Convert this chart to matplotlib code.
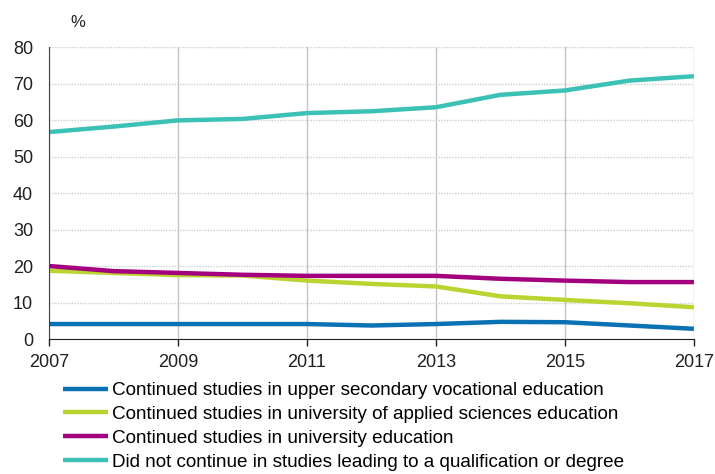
import matplotlib
matplotlib.use('Agg')
from matplotlib import pyplot as plt

years = [2007, 2008, 2009, 2010, 2011, 2012, 2013, 2014, 2015, 2016, 2017]
vocational = [4.1, 4.1, 4.1, 4.1, 4.1, 3.7, 4.1, 4.7, 4.6, 3.7, 2.8]
applied_sciences = [18.7, 18.1, 17.5, 17.4, 16.0, 15.1, 14.4, 11.7, 10.7, 9.8, 8.7]
university = [20.0, 18.6, 18.1, 17.6, 17.3, 17.3, 17.3, 16.5, 16.0, 15.6, 15.6]
no_continue = [56.7, 58.2, 59.9, 60.3, 61.9, 62.4, 63.5, 66.9, 68.1, 70.8, 72.0]

labels = ['Continued studies in upper secondary vocational education',
          'Continued studies in university of applied sciences education',
          'Continued studies in university education',
          'Did not continue in studies leading to a qualification or degree']
colors = ['#0a72b4', '#bcd431', '#a3007f', '#3cc1b6']

plt.rcParams['font.family'] = ['Liberation Sans', 'DejaVu Sans']

fig = plt.figure(dpi=100, figsize=(7.15, 4.74))
ax = fig.add_axes([0.0685, 0.2848, 0.902, 0.616])

for series, label, color in zip([vocational, applied_sciences, university, no_continue], labels, colors):
    ax.plot(years, series, c=color, lw=3.2, label=label, solid_capstyle='butt')

ax.set_xlim(2007, 2017)
ax.set_ylim(0, 80)
ax.set_xticks([2007, 2009, 2011, 2013, 2015, 2017])
ax.set_yticks(range(0, 81, 10))

ax.yaxis.grid(True, color='#cfcfcf', linestyle=(0, (1, 1)), lw=1)
ax.xaxis.grid(True, color='#c4c4c4', linestyle='-', lw=1)
ax.set_axisbelow(True)

for side in ['top', 'right']:
    ax.spines[side].set_visible(False)
ax.spines['left'].set_color('#404040')
ax.spines['bottom'].set_color('#202020')
ax.tick_params(axis='y', length=0, pad=11.5, labelsize=13, colors='#202020')
ax.tick_params(axis='x', direction='out', length=5, width=1, pad=6, labelsize=13, colors='#202020')

fig.text(0.109, 0.953, '%', fontsize=12, ha='center', va='center', color='#202020')

fig.legend(loc='upper left', bbox_to_anchor=(0.088, 0.194), frameon=False,
           fontsize=13.6, handlelength=2.4, handletextpad=0.2, labelspacing=0.35,
           borderpad=0, borderaxespad=0)

plt.savefig('out.png')
